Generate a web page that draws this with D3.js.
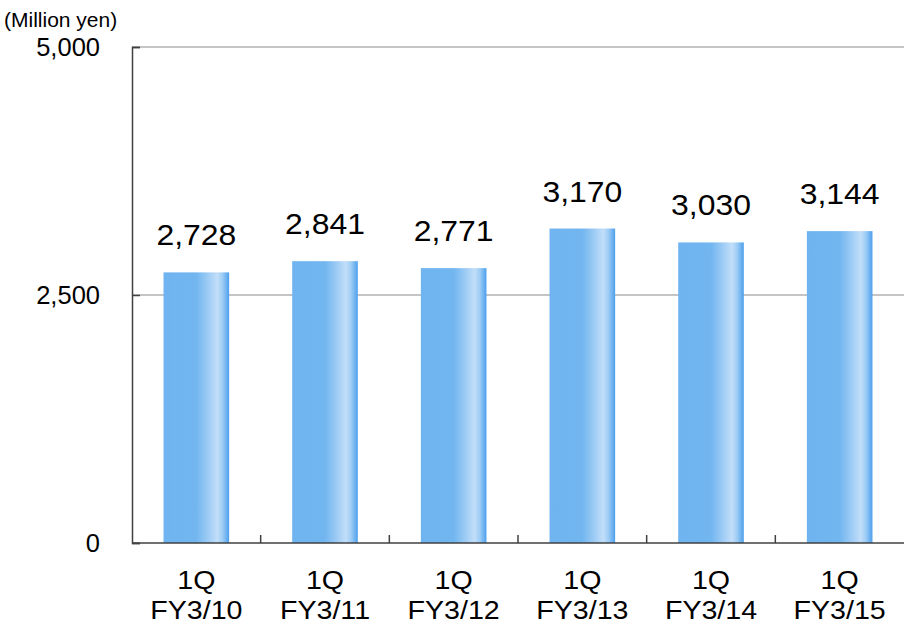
<!DOCTYPE html>
<html><head><meta charset="utf-8">
<script src="https://cdn.jsdelivr.net/npm/d3@7"></script>
<style>body{margin:0;background:#fff}svg{display:block;font-family:Arial,"Liberation Sans",sans-serif}</style>
</head><body><svg id="c" width="904" height="624"></svg>
<script>
const categories = ["1Q\nFY3/10","1Q\nFY3/11","1Q\nFY3/12","1Q\nFY3/13","1Q\nFY3/14","1Q\nFY3/15"];
const values = [2728, 2841, 2771, 3170, 3030, 3144];
const yTicks = [0, 2500, 5000];
const unitLabel = "(Million yen)";

const svg = d3.select("#c");
const m = {l:132, r:0, t:47, b:81};
const W = 904, H = 624;
const x = d3.scaleBand().domain(categories).range([m.l, W - m.r]).paddingInner(0.49).paddingOuter(0.245);
const xb = d3.scaleBand().domain(categories).range([m.l, W - m.r]);
const y = d3.scaleLinear().domain([0, 5000]).range([H - m.b, m.t]);

const defs = svg.append("defs");
const g = defs.append("linearGradient").attr("id","bg").attr("x1","0").attr("x2","1").attr("y1","0").attr("y2","0");
[[0,"#6fb4f0"],[0.5,"#72b6f0"],[0.62,"#8ec4f3"],[0.82,"#c2def9"],[0.9,"#9cccf5"],[1,"#4d9fec"]]
  .forEach(([o,c]) => g.append("stop").attr("offset",o).attr("stop-color",c));

// gridlines
svg.append("g").selectAll("line").data(yTicks.filter(d=>d>0)).join("line")
  .attr("x1", m.l).attr("x2", W).attr("y1", d=>y(d)).attr("y2", d=>y(d))
  .attr("stroke","#c4c4c4").attr("stroke-width",2);

// bars
svg.append("g").selectAll("rect").data(values).join("rect")
  .attr("x",(d,i)=>x(categories[i])).attr("width",x.bandwidth())
  .attr("y",d=>y(d)).attr("height",d=>y(0)-y(d)).attr("fill","url(#bg)");

// value labels
svg.append("g").selectAll("text").data(values).join("text")
  .attr("transform",(d,i)=>`translate(${x(categories[i])+x.bandwidth()/2},${y(d)-27}) scale(1.1,1)`)
  .attr("text-anchor","middle").attr("font-size",29).attr("fill","#000")
  .text(d=>d3.format(",")(d));

// y axis
const ya = svg.append("g").attr("transform",`translate(${m.l},0)`)
  .call(d3.axisLeft(y).tickValues(yTicks).tickFormat(d3.format(",")).tickSize(-8).tickPadding(32));
ya.select(".domain").attr("stroke","#404040").attr("stroke-width",1.5);
ya.selectAll(".tick line").attr("stroke","#404040").attr("stroke-width",1.5);
ya.selectAll(".tick text").attr("font-size",25.5).attr("fill","#000").attr("font-family","Arial,'Liberation Sans',sans-serif");

// x axis
const xa = svg.append("g").attr("transform",`translate(0,${y(0)})`);
xa.append("line").attr("x1",m.l).attr("x2",W).attr("stroke","#404040").attr("stroke-width",1.5);
xa.selectAll("line.tk").data(categories.slice(1)).join("line").attr("class","tk")
  .attr("x1",d=>xb(d)).attr("x2",d=>xb(d)).attr("y1",0).attr("y2",-8)
  .attr("stroke","#404040").attr("stroke-width",1.5);
const lines = categories.flatMap(c => c.split("\n").map((s,k)=>({c, s, k})));
xa.selectAll("text").data(lines).join("text")
  .attr("transform", d => `translate(${xb(d.c) + xb.bandwidth()/2},${46 + d.k*30}) scale(1.1,1)`)
  .attr("text-anchor","middle").attr("font-size",26).attr("fill","#000")
  .text(d=>d.s);

svg.append("text").attr("x",4).attr("y",27).attr("font-size",21).attr("fill","#000").text(unitLabel);
</script></body></html>
